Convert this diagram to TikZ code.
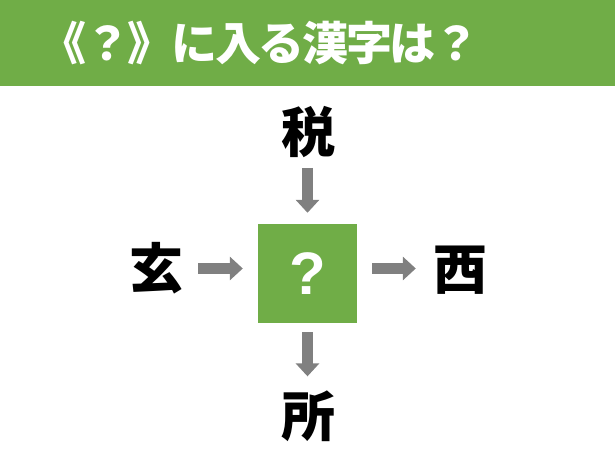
\documentclass[tikz,border=0pt]{standalone}
\usepackage{fontspec}
\setmainfont{Liberation Sans}
\newfontfamily\jp{Noto Sans CJK JP}
\newfontfamily\jpt{Noto Sans CJK JP}[LetterSpace=-5]
\usetikzlibrary{arrows.meta}
\definecolor{hdgreen}{HTML}{70AD47}
\definecolor{arrgray}{HTML}{808080}
\begin{document}
\begin{tikzpicture}[x=1pt,y=-1pt,
  kanji/.style={inner sep=0pt, font=\jp\bfseries\fontsize{54}{54}\selectfont},
  arr/.style={draw=arrgray, line width=11pt, -{Triangle[length=13pt,width=23pt]}}]
\useasboundingbox (0,0) rectangle (615,462);
\node[fill=hdgreen, minimum width=615pt, minimum height=86pt, inner sep=0pt, anchor=north west] (hdr) at (0,0) {};
\node[inner sep=0pt, text=white, font=\jpt\bfseries\fontsize{46}{46}\selectfont] (title) at (260,43.5) {《？》に入る漢字は？};
\node[fill=hdgreen, minimum size=99pt, inner sep=0pt, text=white, font=\bfseries\fontsize{60}{60}\selectfont] (sq) at (307.5,273.5) {?};
\node[kanji] (zei) at (308,132) {税};
\node[kanji] (gen) at (156,268.5) {玄};
\node[kanji] (sai) at (460,270) {西};
\node[kanji] (sho) at (308,416) {所};
\draw[arr, shorten <=10pt, shorten >=11pt] (sq.north |- zei.south) -- (sq.north);
\draw[arr, shorten <=15pt, shorten >=15pt] (gen.east) -- (sq.west |- gen.east);
\draw[arr, shorten <=15pt, shorten >=17pt] (sq.east |- gen.east) -- (sai.west |- gen.east);
\draw[arr, shorten <=9pt, shorten >=14pt] (sq.south) -- (sq.south |- sho.north);
\end{tikzpicture}
\end{document}
